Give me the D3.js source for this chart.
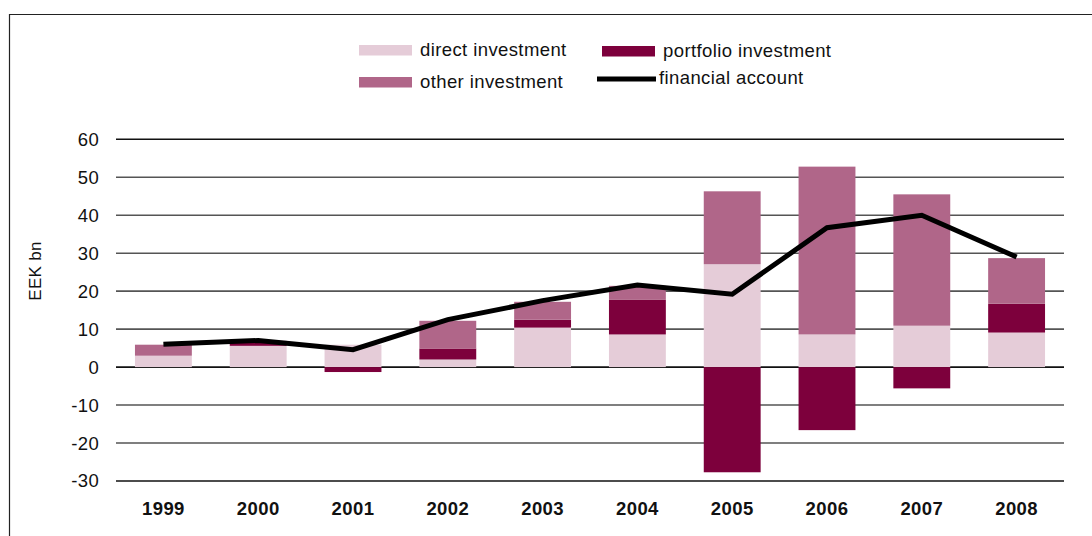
<!DOCTYPE html>
<html>
<head>
<meta charset="utf-8">
<script src="https://cdn.jsdelivr.net/npm/d3@7"></script>
<style>
  body { margin: 0; background: #fff; }
  svg { font-family: "Liberation Sans", Arial, sans-serif; }
</style>
</head>
<body>
<svg id="drawing_region"></svg>
<script>
// values (EEK bn)
const years = ['1999', '2000', '2001', '2002', '2003', '2004', '2005', '2006', '2007', '2008'];
const direct = [3.0, 5.6, 5.9, 2.0, 10.4, 8.6, 27.1, 8.6, 10.9, 9.1];
const portfolio = [0.0, 1.3, -1.3, 2.9, 2.1, 9.1, -27.7, -16.6, -5.6, 7.6];
const other = [2.9, 0.0, 0.0, 7.3, 4.7, 3.7, 19.2, 44.2, 34.6, 12.0];
const financial = [6.0, 7.0, 4.6, 12.5, 17.5, 21.6, 19.2, 36.7, 40.0, 29.0];
const yTicks = [-30, -20, -10, 0, 10, 20, 30, 40, 50, 60];

const config = {
    parent: '#drawing_region',
    width: 1092,
    height: 536,
    margin: { top: 139, right: 28, bottom: 55, left: 116 }
};

const keys = ['direct', 'portfolio', 'other'];
const colors = { direct: '#e5ccd8', portfolio: '#7d003c', other: '#b06689' };
const labels = { direct: 'direct investment', portfolio: 'portfolio investment', other: 'other investment' };

const table = years.map((y, i) => ({
    year: y, direct: direct[i], portfolio: portfolio[i], other: other[i], financial: financial[i]
}));

const svg = d3.select(config.parent)
    .attr('width', config.width)
    .attr('height', config.height);

// frame
svg.append('path')
    .attr('d', `M9.5,${config.height} V14.5 H${config.width}`)
    .attr('fill', 'none')
    .attr('stroke', '#222')
    .attr('stroke-width', 1.2);

const x = d3.scaleBand()
    .domain(years)
    .range([config.margin.left, config.width - config.margin.right])
    .paddingInner(0.4)
    .paddingOuter(0.2);

const y = d3.scaleLinear()
    .domain([-30, 60])
    .range([481, 139.3]);

// gridlines
svg.append('g')
    .selectAll('line')
    .data(yTicks)
    .join('line')
    .attr('x1', config.margin.left)
    .attr('x2', config.width - config.margin.right)
    .attr('y1', d => y(d))
    .attr('y2', d => y(d))
    .attr('stroke', d => (d === 0 || d === -30 || d === 60) ? '#111' : '#555')
    .attr('stroke-width', 1.6);

// y tick labels
svg.append('g')
    .selectAll('text')
    .data(yTicks)
    .join('text')
    .attr('x', 99)
    .attr('y', d => y(d))
    .attr('dy', '0.35em')
    .attr('text-anchor', 'end')
    .style('font-size', '18.5px')
    .style('letter-spacing', '0.3px')
    .attr('fill', '#111')
    .text(d => d);

// y axis title
svg.append('text')
    .attr('transform', 'translate(41, 271) rotate(-90)')
    .attr('text-anchor', 'middle')
    .style('font-size', '17px')
    .style('letter-spacing', '0.3px')
    .attr('fill', '#111')
    .text('EEK bn');

// x labels
svg.append('g')
    .selectAll('text')
    .data(years)
    .join('text')
    .attr('x', d => x(d) + x.bandwidth() / 2)
    .attr('y', 515)
    .attr('text-anchor', 'middle')
    .style('font-size', '18.5px')
    .style('letter-spacing', '0.4px')
    .style('font-weight', 'bold')
    .attr('fill', '#111')
    .text(d => d);

// stacked bars
const stack = d3.stack()
    .keys(keys)
    .offset(d3.stackOffsetDiverging);

svg.append('g')
    .selectAll('g')
    .data(stack(table))
    .join('g')
    .attr('fill', d => colors[d.key])
    .selectAll('rect')
    .data(d => d)
    .join('rect')
    .attr('x', d => x(d.data.year))
    .attr('width', x.bandwidth())
    .attr('y', d => y(Math.max(d[0], d[1])))
    .attr('height', d => Math.abs(y(d[0]) - y(d[1])));

// financial account line
const line = d3.line()
    .x(d => x(d.year) + x.bandwidth() / 2)
    .y(d => y(d.financial));

svg.append('path')
    .datum(table)
    .attr('d', line)
    .attr('fill', 'none')
    .attr('stroke', '#000')
    .attr('stroke-width', 5);

// legend
const legendItems = [
    { key: 'direct', x: 359, y: 50 },
    { key: 'portfolio', x: 602, y: 51 },
    { key: 'other', x: 359, y: 82 }
];
const legend = svg.append('g')
    .style('font-size', '18.5px')
    .style('letter-spacing', '0.4px');
legend.selectAll('rect')
    .data(legendItems)
    .join('rect')
    .attr('x', d => d.x)
    .attr('y', d => d.y - 5)
    .attr('width', 53)
    .attr('height', 10.5)
    .attr('fill', d => colors[d.key]);
legend.selectAll('text.item')
    .data(legendItems)
    .join('text')
    .attr('class', 'item')
    .attr('x', d => d.x + 61)
    .attr('y', d => d.y)
    .attr('dy', '0.35em')
    .attr('fill', '#111')
    .text(d => labels[d.key]);

legend.append('line')
    .attr('x1', 597).attr('x2', 656)
    .attr('y1', 79).attr('y2', 79)
    .attr('stroke', '#000')
    .attr('stroke-width', 5);
legend.append('text')
    .attr('x', 659)
    .attr('y', 78)
    .attr('dy', '0.35em')
    .attr('fill', '#111')
    .text('financial account');
</script>
</body>
</html>
